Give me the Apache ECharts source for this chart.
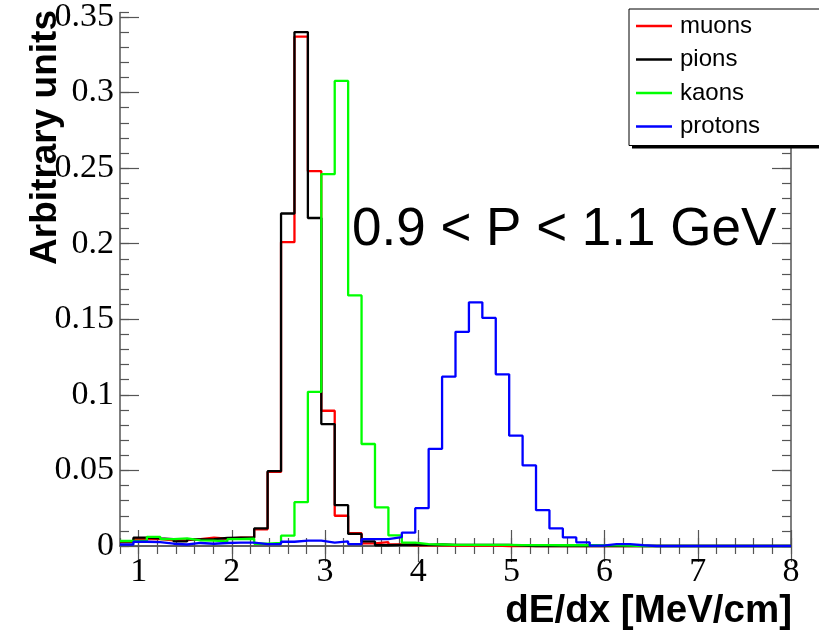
<!DOCTYPE html>
<html><head><meta charset="utf-8">
<script src="https://cdn.jsdelivr.net/npm/echarts@6/dist/echarts.min.js"></script>
<style>html,body{margin:0;padding:0;background:#fff}#c{width:819px;height:632px}</style>
</head><body><div id="c"></div><script>
// Histogram binning (50 bins from 0.8 to 8)
const binStart = 0.8;
const binWidth = 0.144;

const muons = [0.0026,0.0046,0.0045,0.0037,0.0039,0.0045,0.0055,0.0048,0.0055,0.0055,
  0.011,0.049,0.201,0.337,0.248,0.0895,0.020,0.0085,0.0018,0.0025,
  0.001,0.0005,0.0004,0.0004,0.0003,0.0003,0.0003,0.0002,0,0,
  0,0,0,0,0,0,0,0,0,0, 0,0,0,0,0,0,0,0,0,0];
const pions = [0.003,0.0055,0.005,0.0046,0.003,0.0044,0.0045,0.0053,0.0055,0.0057,
  0.0116,0.0495,0.220,0.340,0.217,0.0807,0.027,0.008,0.003,0.0005,
  0.0008,0.001,0.0008,0.001,0.0008,0.0008,0.0008,0.0008,0.0008,0.0003,
  0,0,0,0,0,0,0,0,0,0, 0,0,0,0,0,0,0,0,0,0];
const kaons = [0.0033,0.0035,0.0061,0.0046,0.005,0.0037,0.0035,0.003,0.0045,0.0048,
  0.0015,0.002,0.0068,0.029,0.102,0.246,0.3077,0.1658,0.0675,0.0256,
  0.007,0.0022,0.0012,0.001,0.0008,0.0008,0.0007,0.0007,0.0007,0.0006,
  0.0006,0.0006,0.0005,0.0005,0.0005,0.0004,0.0004,0.0003,0,0,
  0,0,0,0,0,0,0,0,0,0];
const protons = [0.001,0.0028,0.0026,0.0015,0.001,0.002,0.0015,0.002,0.0022,0.0022,
  0.0013,0.0013,0.0028,0.0035,0.0035,0.0022,0.003,0.0013,0.0045,0.0045,
  0.0058,0.0088,0.025,0.0643,0.112,0.1417,0.1612,0.1509,0.1136,0.073,
  0.0533,0.0237,0.0116,0.0057,0.0024,0.0002,0.0012,0.0012,0.0005,0,
  0,0,0,0,0,0,0,0,0,0];

const seriesNames = ['muons','pions','kaons','protons'];
const seriesColors = ['#ff0000','#000000','#00ff00','#0000ff'];
const xTicks = [1,2,3,4,5,6,7,8];
const yTicks = [0,0.05,0.1,0.15,0.2,0.25,0.3,0.35];
const yTickLabels = ['0','0.05','0.1','0.15','0.2','0.25','0.3','0.35'];
const xTitle = 'dE/dx [MeV/cm]';
const yTitle = 'Arbitrary units';
const note = '0.9 < P < 1.1 GeV';

function stepData(vals){
  const out = [];
  vals.forEach((v,i)=>{
    const a = +(binStart + i*binWidth).toFixed(4);
    const b = +(binStart + (i+1)*binWidth).toFixed(4);
    out.push([a,v]); out.push([b,v]);
  });
  return out;
}
const allVals = [muons,pions,kaons,protons];

const X0 = 0.8, X1 = 8, Y0 = 0, Y1 = 0.353;
const frameColor = '#555';
const lab = {fontFamily:'Liberation Serif', fontSize:34, color:'#000'};

function xAx(pos, major, labels){
  const o = {type:'value', position:pos, min:X0, max:X1, splitLine:{show:false},
    axisLine:{show:major, lineStyle:{color:frameColor, width:1.5}},
    axisTick:{show:true, inside:true, length: major?16:8, lineStyle:{color:frameColor, width:1.2}},
    axisLabel:{show:false}};
  if (major){ o.axisTick.customValues = xTicks; }
  else { o.interval = 0.2; }
  if (labels){ o.axisLabel = Object.assign({show:true, customValues:xTicks, margin:9}, lab); }
  return o;
}
function yAx(pos, major, labels){
  const o = {type:'value', position:pos, min:Y0, max:Y1, splitLine:{show:false},
    axisLine:{show:major, lineStyle:{color:frameColor, width:1.5}},
    axisTick:{show:true, inside:true, length: major?19:9, lineStyle:{color:frameColor, width:1.2}},
    axisLabel:{show:false}};
  if (major){ o.axisTick.customValues = yTicks; }
  else { o.interval = 0.01; }
  if (labels){ o.axisLabel = Object.assign({show:true, customValues:yTicks, margin:6,
      formatter:(v)=>{ const k = yTicks.findIndex(t=>Math.abs(t-v)<1e-9); return k>=0?yTickLabels[k]:''; }}, lab); }
  return o;
}

const chart = echarts.init(document.getElementById('c'), null, {renderer:'canvas'});
chart.setOption({
  animation:false,
  backgroundColor:'#fff',
  grid:{left:120, top:9, width:671, height:537, containLabel:false},
  xAxis:[xAx('bottom',true,true), xAx('bottom',false,false), xAx('top',true,false), xAx('top',false,false)],
  yAxis:[yAx('left',true,true), yAx('left',false,false), yAx('right',true,false), yAx('right',false,false)],
  legend:{orient:'vertical', left:629, top:9, padding:[5,66,7,7], itemGap:9.5, z:10,
    itemWidth:36, itemHeight:2.5, icon:'rect',
    textStyle:{fontFamily:'Liberation Sans', fontSize:24, color:'#000', padding:[0,0,0,3]},
    backgroundColor:'#fff', borderColor:'#000', borderWidth:1,
    data:seriesNames},
  series: seriesNames.map((n,k)=>({
    name:n, type:'line', xAxisIndex:0, yAxisIndex:0, data:stepData(allVals[k]),
    showSymbol:false, symbol:'none', clip:false, z:2+k,
    lineStyle:{color:seriesColors[k], width:2.3}, itemStyle:{color:seriesColors[k]}
  })),
  graphic:[
    {type:'rect', z:5, shape:{x:632, y:12, width:200, height:136.5}, style:{fill:'#000'}},
    {type:'text', x:46, y:10, rotation:Math.PI/2,
      style:{text:yTitle, fontFamily:'Liberation Sans', fontWeight:'bold', fontSize:37, fill:'#000', align:'right', verticalAlign:'middle'}},
    {type:'text', x:792, y:611,
      style:{text:xTitle, fontFamily:'Liberation Sans', fontWeight:'bold', fontSize:38.5, fill:'#000', align:'right', verticalAlign:'middle'}},
    {type:'text', x:352, y:230,
      style:{text:note, fontFamily:'Liberation Sans', fontSize:53, fill:'#000', align:'left', verticalAlign:'middle'}}
  ]
});
</script></body></html>
